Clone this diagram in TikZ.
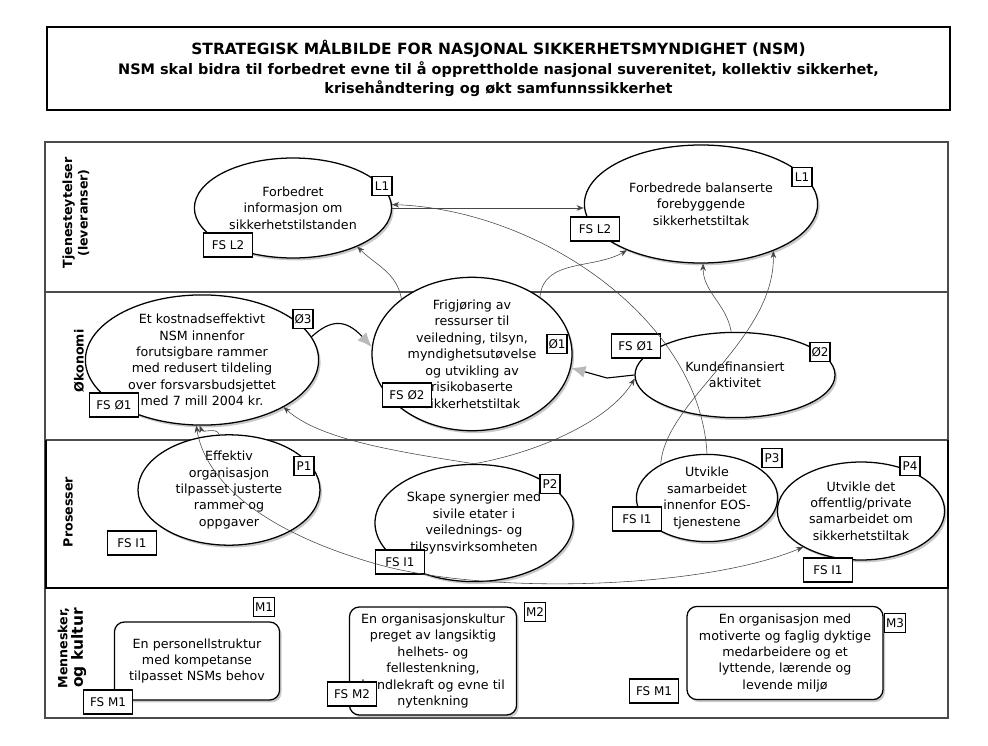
\documentclass[tikz,border=0pt]{standalone}
\usepackage{fontspec}
\setmainfont{DejaVu Sans}
\usetikzlibrary{arrows.meta,shapes.geometric,shadows}

\begin{document}
\begin{tikzpicture}[
  x=0.25mm, y=-0.25mm,
  goal/.style={ellipse,draw,line width=0.9pt,fill=white,inner sep=0pt,align=center,font=\fontsize{9}{11.7}\selectfont,
    drop shadow={shadow xshift=0.5mm,shadow yshift=-0.6mm,fill=gray!70,opacity=0.6}},
  culture/.style={draw,rounded corners=2.5mm,line width=0.9pt,fill=white,inner sep=0pt,align=center,font=\fontsize{9}{11.7}\selectfont,
    drop shadow={shadow xshift=0.5mm,shadow yshift=-0.6mm,fill=gray!70,opacity=0.6}},
  tag/.style={draw,line width=0.8pt,fill=white,inner sep=1pt,minimum width=5mm,minimum height=4.6mm,font=\fontsize{8.5}{10}\selectfont},
  fstag/.style={tag,minimum width=12.2mm,minimum height=6mm},
  lane/.style={draw=gray!60!black,line width=1.6pt},
  lane label/.style={rotate=90,align=center,font=\bfseries\fontsize{9}{11}\selectfont},
  link/.style={>={Stealth[length=1.8mm,width=1.4mm]},->,gray!55!black,line width=0.4pt},
  push/.style={-{Latex[length=3.6mm,width=3mm,gray!55]},line width=0.8pt}
]
\useasboundingbox[fill=white] (0,0) rectangle (988,745);

% overskrift
\node[draw,line width=1.2pt,minimum width=225.75mm,minimum height=20.75mm,align=center,
  font=\bfseries\fontsize{10.3}{13.9}\selectfont] (title) at (498.5,68.5)
  {{\fontsize{11}{13.9}\selectfont STRATEGISK MÅLBILDE FOR NASJONAL SIKKERHETSMYNDIGHET (NSM)}\\
   NSM skal bidra til forbedret evne til å opprettholde nasjonal suverenitet, kollektiv sikkerhet,\\
   krisehåndtering og økt samfunnssikkerhet};

% perspektiver
\draw[lane] (45,142) rectangle (948,718);
\draw[lane] (45,292) -- (948,292);
\draw[lane] (45,440) -- (948,440);
\draw[line width=1.8pt] (46,440) -- (46,588) -- (948,588) -- (948,440);

\node[lane label] (tj) at (76,213) {Tjenesteytelser\\(leveranser)};
\node[lane label] (ok) at (79,361) {Økonomi};
\node[lane label] (pr) at (68,512) {Prosesser};
\node[lane label] (mk) at (72,648) {Mennesker,\\{\fontsize{11}{11}\selectfont og kultur}};

% leveranser
\node[goal,minimum width=49.3mm,minimum height=25mm] (l1a) at (293,208) {Forbedret\\informasjon om\\sikkerhetstilstanden};
\node[goal,minimum width=58.3mm,minimum height=29.5mm] (l1b) at (701,204) {Forbedrede balanserte\\forebyggende\\sikkerhetstiltak};

% økonomi
\node[goal,minimum width=58.3mm,minimum height=31.3mm] (o3) at (202,360) {Et kostnadseffektivt\\NSM innenfor\\forutsigbare rammer\\med redusert tildeling\\over forsvarsbudsjettet\\med 7 mill 2004 kr.};
\node[goal,minimum width=50mm,minimum height=30.8mm] (o1) at (472,354) {Frigjøring av\\ressurser til\\veiledning, tilsyn,\\myndighetsutøvelse\\og utvikling av\\risikobaserte\\sikkerhetstiltak};
\node[goal,minimum width=50mm,minimum height=21.3mm] (o2) at (735,375) {Kundefinansiert\\aktivitet};

% prosesser
\node[goal,minimum width=45.5mm,minimum height=23.8mm] (p1) at (229,490) {Effektiv\\organisasjon\\tilpasset justerte\\rammer og\\oppgaver};
\node[goal,minimum width=49.5mm,minimum height=29.3mm] (p2) at (474,523) {Skape synergier med\\sivile etater i\\veilednings- og\\tilsynsvirksomheten};
\node[goal,minimum width=35.3mm,minimum height=21.8mm] (p3) at (707,498) {Utvikle\\samarbeidet\\innenfor EOS-\\tjenestene};
\node[goal,minimum width=41.8mm,minimum height=24.5mm] (p4) at (861,511) {Utvikle det\\offentlig/private\\samarbeidet om\\sikkerhetstiltak};

% mennesker og kultur
\node[culture,minimum width=41.3mm,minimum height=19.5mm] (m1) at (197,661) {En personellstruktur\\med kompetanse\\tilpasset NSMs behov};
\node[culture,minimum width=41.8mm,minimum height=27mm] (m2) at (433,661) {En organisasjonskultur\\preget av langsiktig\\helhets- og\\fellestenkning,\\handlekraft og evne til\\nytenkning};
\node[culture,minimum width=49mm,minimum height=23.3mm] (m3) at (785,653) {En organisasjon med\\motiverte og faglig dyktige\\medarbeidere og et\\lyttende, lærende og\\levende miljø};

% merkelapper
\node[tag] (t-l1a) at (382,186) {L1};
\node[fstag] (fs-l1a) at (228,245) {FS L2};
\node[tag] (t-l1b) at (802,177) {L1};
\node[fstag] (fs-l1b) at (595,229) {FS L2};
\node[tag] (t-o3) at (303,319) {Ø3};
\node[fstag] (fs-o3) at (114,405) {FS Ø1};
\node[tag] (t-o1) at (557,344) {Ø1};
\node[fstag] (fs-o1) at (407,395) {FS Ø2};
\node[tag] (t-o2) at (820,352) {Ø2};
\node[fstag] (fs-o2) at (636,346) {FS Ø1};
\node[tag] (t-p1) at (304,466) {P1};
\node[fstag] (fs-p1) at (132,543) {FS I1};
\node[tag] (t-p2) at (550,484) {P2};
\node[fstag] (fs-p2) at (400,562) {FS I1};
\node[tag] (t-p3) at (772,458) {P3};
\node[fstag] (fs-p3) at (637,519) {FS I1};
\node[tag] (t-p4) at (910,466) {P4};
\node[fstag] (fs-p4) at (828,570) {FS I1};
\node[tag] (t-m1) at (264,607) {M1};
\node[fstag] (fs-m1) at (108,702) {FS M1};
\node[tag] (t-m2) at (535,612) {M2};
\node[fstag] (fs-m2) at (352,694) {FS M2};
\node[tag] (t-m3) at (895,623) {M3};
\node[fstag] (fs-m3) at (654,691) {FS M1};

% sammenhenger
\draw[link] (o1.142) to[out=100,in=-45] (l1a.-31);
\draw[link] (o1.40) to[out=85,in=210] (l1b.212);
\draw[link] (l1a.east) -- (l1a.east -| l1b.west);
\draw[link] (p3.north) .. controls (700,320) and (540,210) .. (l1a.2);
\draw[link] (p3.144) .. controls (665,400) and (775,340) .. (l1b.-33);
\draw[link] (o2.95) to[out=100,in=-90] (l1b.-88);
\draw[push] (o3.12) .. controls (330,320) and (345,318) .. (o1.176);
\draw[push] (o2.west) -- (607,378) -- (o1.-8);
\draw[link] (p2.north) .. controls (400,452) and (320,440) .. (o3.-30);
\draw[link] (p2.north) .. controls (540,452) and (610,420) .. (o2.182);
\draw[link] (p1.100) to[out=110,in=-70] (o3.-92);
\draw[link,<->] (o3.-95) .. controls (205,480) and (260,530) .. (373,563) .. controls (480,595) and (700,590) .. (p4.212);
\end{tikzpicture}
\end{document}
